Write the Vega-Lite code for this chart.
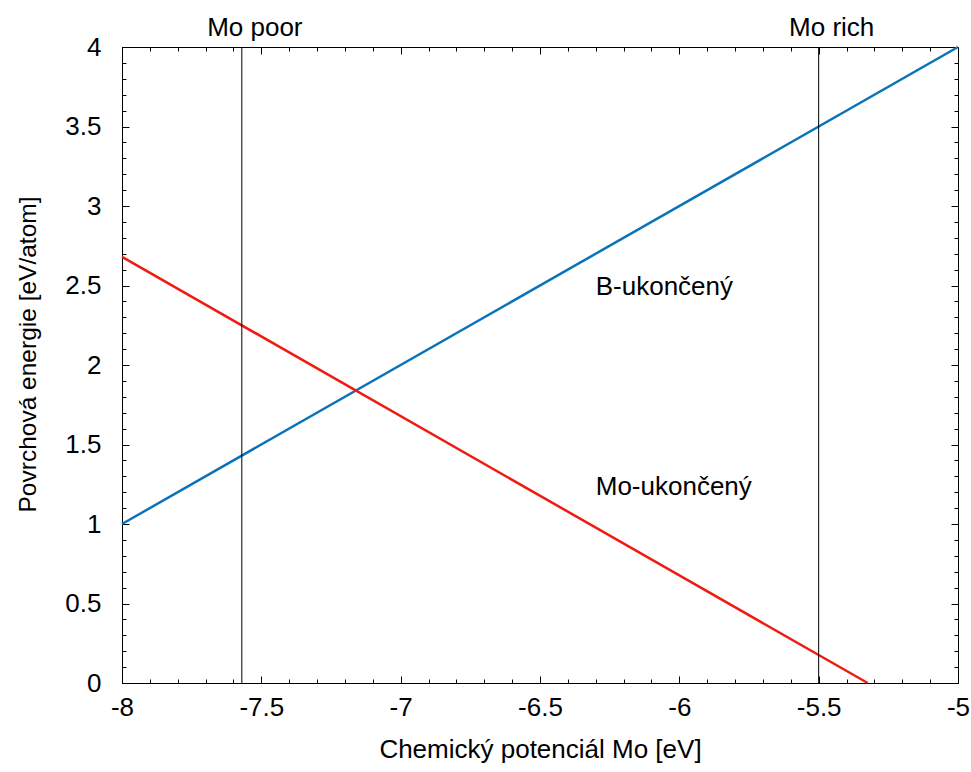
{
  "$schema": "https://vega.github.io/schema/vega-lite/v6.json",
  "width": 836,
  "height": 636,
  "autosize": "none",
  "padding": {"left": 122, "top": 47, "right": 13, "bottom": 89},
  "background": "white",
  "config": {
    "view": {"stroke": "black", "strokeWidth": 1},
    "axis": {
      "domain": false,
      "grid": false,
      "tickColor": "black",
      "tickWidth": 1,
      "labelFont": "Liberation Sans",
      "labelFontSize": 26,
      "labelColor": "black",
      "titleFont": "Liberation Sans",
      "titleFontSize": 26,
      "titleFontWeight": "normal",
      "titleColor": "black",
      "labelOverlap": false,
      "labelFlush": false,
      "labelBound": false
    },
    "text": {"font": "Liberation Sans", "fontSize": 26, "color": "black"}
  },
  "datasets": {
    "lines": [
      {"series": "B-ukončený", "x": -8, "y": 1},
      {"series": "B-ukončený", "x": -5, "y": 4},
      {"series": "Mo-ukončený", "x": -8, "y": 2.68},
      {"series": "Mo-ukončený", "x": -5.324, "y": 0}
    ],
    "vlines": [
      {"x": -7.57, "label": "Mo poor"},
      {"x": -5.5, "label": "Mo rich"}
    ],
    "labels": [
      {"x": -6.3, "y": 2.49, "text": "B-ukončený"},
      {"x": -6.3, "y": 1.23, "text": "Mo-ukončený"}
    ]
  },
  "resolve": {
    "scale": {"x": "shared", "y": "shared"},
    "axis": {"x": "independent", "y": "independent"}
  },
  "layer": [
    {
      "data": {"name": "lines"},
      "transform": [{"filter": "datum.series == 'B-ukončený'"}],
      "mark": {"type": "line", "color": "#0a72b8", "strokeWidth": 2.5},
      "encoding": {
        "x": {
          "field": "x", "type": "quantitative",
          "scale": {"domain": [-8, -5], "nice": false, "zero": false},
          "axis": {
            "orient": "bottom",
            "values": [-8, -7.5, -7, -6.5, -6, -5.5, -5],
            "tickSize": -7,
            "labelExpr": "datum.value + ''",
            "labelPadding": 18,
            "title": "Chemický potenciál Mo [eV]",
            "titlePadding": 16
          }
        },
        "y": {
          "field": "y", "type": "quantitative",
          "scale": {"domain": [0, 4], "nice": false, "zero": false},
          "axis": {
            "orient": "left",
            "values": [0, 0.5, 1, 1.5, 2, 2.5, 3, 3.5, 4],
            "tickSize": -7,
            "labelExpr": "datum.value + ''",
            "labelPadding": 28,
            "title": "Povrchová energie [eV/atom]",
            "titleFontSize": 24.5,
            "titleY": 307,
            "titlePadding": 24
          }
        }
      }
    },
    {
      "data": {"name": "lines"},
      "transform": [{"filter": "datum.series == 'Mo-ukončený'"}],
      "mark": {"type": "line", "color": "#f01a10", "strokeWidth": 2.5},
      "encoding": {
        "x": {
          "field": "x", "type": "quantitative",
          "axis": {
            "orient": "bottom",
            "values": [-8, -7.9, -7.8, -7.7, -7.6, -7.5, -7.4, -7.3, -7.2, -7.1, -7, -6.9, -6.8, -6.7, -6.6, -6.5, -6.4, -6.3, -6.2, -6.1, -6, -5.9, -5.8, -5.7, -5.6, -5.5, -5.4, -5.3, -5.2, -5.1, -5],
            "tickSize": -4,
            "labels": false,
            "title": null
          }
        },
        "y": {
          "field": "y", "type": "quantitative",
          "axis": {
            "orient": "left",
            "values": [0, 0.1, 0.2, 0.3, 0.4, 0.5, 0.6, 0.7, 0.8, 0.9, 1, 1.1, 1.2, 1.3, 1.4, 1.5, 1.6, 1.7, 1.8, 1.9, 2, 2.1, 2.2, 2.3, 2.4, 2.5, 2.6, 2.7, 2.8, 2.9, 3, 3.1, 3.2, 3.3, 3.4, 3.5, 3.6, 3.7, 3.8, 3.9, 4],
            "tickSize": -4,
            "labels": false,
            "title": null
          }
        }
      }
    },
    {
      "data": {"name": "vlines"},
      "mark": {"type": "rule", "color": "black", "strokeWidth": 1},
      "encoding": {
        "x": {
          "field": "x", "type": "quantitative",
          "axis": {
            "orient": "top",
            "values": [-8, -7.5, -7, -6.5, -6, -5.5, -5],
            "tickSize": -7,
            "labels": false,
            "title": null
          }
        },
        "y": {
          "datum": 0, "type": "quantitative",
          "axis": {
            "orient": "right",
            "values": [0, 0.5, 1, 1.5, 2, 2.5, 3, 3.5, 4],
            "tickSize": -7,
            "labels": false,
            "title": null
          }
        },
        "y2": {"datum": 4}
      }
    },
    {
      "data": {"name": "labels"},
      "mark": {"type": "text", "align": "left", "baseline": "middle"},
      "encoding": {
        "x": {
          "field": "x", "type": "quantitative",
          "axis": {
            "orient": "top",
            "values": [-8, -7.9, -7.8, -7.7, -7.6, -7.5, -7.4, -7.3, -7.2, -7.1, -7, -6.9, -6.8, -6.7, -6.6, -6.5, -6.4, -6.3, -6.2, -6.1, -6, -5.9, -5.8, -5.7, -5.6, -5.5, -5.4, -5.3, -5.2, -5.1, -5],
            "tickSize": -4,
            "labels": false,
            "title": null
          }
        },
        "y": {
          "field": "y", "type": "quantitative",
          "axis": {
            "orient": "right",
            "values": [0, 0.1, 0.2, 0.3, 0.4, 0.5, 0.6, 0.7, 0.8, 0.9, 1, 1.1, 1.2, 1.3, 1.4, 1.5, 1.6, 1.7, 1.8, 1.9, 2, 2.1, 2.2, 2.3, 2.4, 2.5, 2.6, 2.7, 2.8, 2.9, 3, 3.1, 3.2, 3.3, 3.4, 3.5, 3.6, 3.7, 3.8, 3.9, 4],
            "tickSize": -4,
            "labels": false,
            "title": null
          }
        },
        "text": {"field": "text"}
      }
    },
    {
      "data": {"name": "vlines"},
      "mark": {"type": "text", "align": "center", "baseline": "bottom", "dy": -6, "dx": 13},
      "encoding": {
        "x": {"field": "x", "type": "quantitative", "axis": null},
        "y": {"datum": 4, "type": "quantitative", "axis": null},
        "text": {"field": "label"}
      }
    }
  ]
}
